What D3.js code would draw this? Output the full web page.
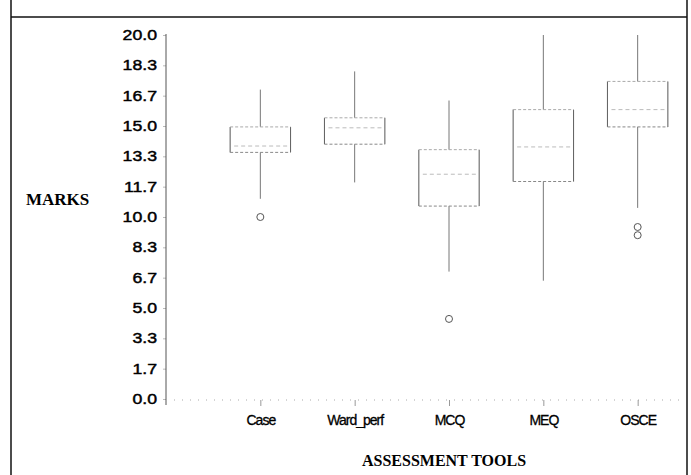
<!DOCTYPE html>
<html>
<head>
<meta charset="utf-8">
<script src="https://cdn.jsdelivr.net/npm/d3@7"></script>
<style>
  html, body { margin: 0; padding: 0; background: #fff; }
  svg { display: block; }
</style>
</head>
<body>
<svg id="chart" width="691" height="475"></svg>
<script>
// ---- Data ----
const categories = ["Case", "Ward_perf", "MCQ", "MEQ", "OSCE"];
const whiskerLow  = [11.0, 11.9, 7.0, 6.5, 10.5];
const q1          = [13.55, 14.0, 10.6, 11.95, 14.95];
const medians     = [13.9, 14.9, 12.35, 13.85, 15.9];
const q3          = [14.95, 15.45, 13.7, 15.9, 17.45];
const whiskerHigh = [17.0, 18.0, 16.4, 20.0, 20.0];
const outliers    = [[10.0], [], [4.4], [], [9.45, 9.0]];
const yTickValues = [0, 1.667, 3.333, 5, 6.667, 8.333, 10, 11.667, 13.333, 15, 16.667, 18.333, 20];
const yTitle = "MARKS";
const xTitle = "ASSESSMENT TOOLS";

const svg = d3.select("#chart");

// Frame
svg.append("line").attr("x1", 11).attr("x2", 11).attr("y1", 0).attr("y2", 475)
  .attr("stroke", "#111").attr("stroke-width", 1.5);
svg.append("line").attr("x1", 687).attr("x2", 687).attr("y1", 0).attr("y2", 475)
  .attr("stroke", "#111").attr("stroke-width", 1.5);
svg.append("line").attr("x1", 11).attr("x2", 687).attr("y1", 17).attr("y2", 17)
  .attr("stroke", "#111").attr("stroke-width", 1.5);

const axisX = 166;
const y = d3.scaleLinear().domain([0, 20]).range([399, 35]);
const x = d3.scalePoint().domain(categories).range([axisX, 732]).padding(1);
const boxW = x.step() * 0.64;

// Y axis
const yAxis = d3.axisLeft(y).tickValues(yTickValues).tickSize(3).tickPadding(6)
  .tickFormat(d3.format(".1f"));
const gy = svg.append("g").attr("transform", `translate(${axisX},0)`).call(yAxis);
gy.select(".domain").remove();
gy.selectAll(".tick line").attr("stroke", "#bbb");
gy.selectAll(".tick text")
  .attr("font-family", "'Liberation Sans', Arial, sans-serif")
  .attr("font-size", 14.5)
  .attr("fill", "#000")
  .attr("stroke", "#000").attr("stroke-width", 0.45)
  .attr("x", -9 / 1.22)
  .attr("transform", "scale(1.22,1)");
svg.append("line").attr("x1", axisX).attr("x2", axisX)
  .attr("y1", y(20) - 1).attr("y2", y(0) + 6)
  .attr("stroke", "#555").attr("stroke-width", 1);

// Baseline (dotted)
svg.append("line").attr("x1", axisX).attr("x2", 682)
  .attr("y1", y(0) + 1).attr("y2", y(0) + 1)
  .attr("stroke", "#aaa").attr("stroke-width", 1).attr("stroke-dasharray", "1,7");

// X axis ticks and labels
const xAxis = d3.axisBottom(x).tickSize(6).tickPadding(9);
const gx = svg.append("g").attr("transform", `translate(0,${y(0) + 1})`).call(xAxis);
gx.select(".domain").remove();
gx.selectAll(".tick line").attr("stroke", "#999");
gx.selectAll(".tick text")
  .attr("font-family", "'Liberation Sans', Arial, sans-serif")
  .attr("font-size", 14)
  .attr("letter-spacing", -1)
  .attr("fill", "#000")
  .attr("stroke", "#000").attr("stroke-width", 0.3);

// Boxes
const data = categories.map((c, i) => ({
  c, lo: whiskerLow[i], q1: q1[i], med: medians[i], q3: q3[i], hi: whiskerHigh[i], out: outliers[i]
}));

const g = svg.append("g");
const boxes = g.selectAll("g.box").data(data).join("g").attr("class", "box");

// whiskers
boxes.append("line")
  .attr("x1", d => x(d.c)).attr("x2", d => x(d.c))
  .attr("y1", d => y(d.q3)).attr("y2", d => y(d.hi))
  .attr("stroke", "#777").attr("stroke-width", 1);
boxes.append("line")
  .attr("x1", d => x(d.c)).attr("x2", d => x(d.c))
  .attr("y1", d => y(d.q1)).attr("y2", d => y(d.lo))
  .attr("stroke", "#777").attr("stroke-width", 1);

// box vertical sides
boxes.append("line")
  .attr("x1", d => x(d.c) - boxW / 2).attr("x2", d => x(d.c) - boxW / 2)
  .attr("y1", d => y(d.q3)).attr("y2", d => y(d.q1))
  .attr("stroke", "#666").attr("stroke-width", 1.1);
boxes.append("line")
  .attr("x1", d => x(d.c) + boxW / 2).attr("x2", d => x(d.c) + boxW / 2)
  .attr("y1", d => y(d.q3)).attr("y2", d => y(d.q1))
  .attr("stroke", "#666").attr("stroke-width", 1.1);
// box top/bottom
boxes.append("line")
  .attr("x1", d => x(d.c) - boxW / 2).attr("x2", d => x(d.c) + boxW / 2)
  .attr("y1", d => y(d.q3)).attr("y2", d => y(d.q3))
  .attr("stroke", "#aaa").attr("stroke-width", 1).attr("stroke-dasharray", "3,2");
boxes.append("line")
  .attr("x1", d => x(d.c) - boxW / 2).attr("x2", d => x(d.c) + boxW / 2)
  .attr("y1", d => y(d.q1)).attr("y2", d => y(d.q1))
  .attr("stroke", "#888").attr("stroke-width", 1).attr("stroke-dasharray", "3,2");
// median
boxes.append("line")
  .attr("x1", d => x(d.c) - boxW / 2 + 4).attr("x2", d => x(d.c) + boxW / 2 - 2)
  .attr("y1", d => y(d.med)).attr("y2", d => y(d.med))
  .attr("stroke", "#bbb").attr("stroke-width", 1).attr("stroke-dasharray", "4,3");

// outliers
boxes.each(function(d) {
  d3.select(this).selectAll("circle").data(d.out).join("circle")
    .attr("cx", x(d.c)).attr("cy", v => y(v)).attr("r", 3.5)
    .attr("fill", "none").attr("stroke", "#555").attr("stroke-width", 1);
});

// Axis titles
svg.append("text").attr("x", 26).attr("y", 199).attr("dy", "0.35em")
  .attr("font-family", "'Liberation Serif', 'Times New Roman', serif")
  .attr("font-weight", "bold").attr("font-size", 17).attr("fill", "#000")
  .text(yTitle);
svg.append("text").attr("x", 444).attr("y", 460).attr("dy", "0.35em")
  .attr("text-anchor", "middle")
  .attr("font-family", "'Liberation Serif', 'Times New Roman', serif")
  .attr("font-weight", "bold").attr("font-size", 16).attr("fill", "#000")
  .text(xTitle);
</script>
</body>
</html>
